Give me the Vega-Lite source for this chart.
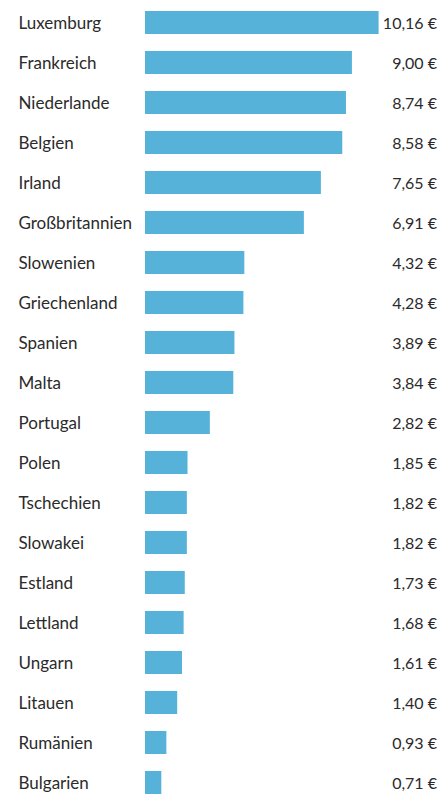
{
  "$schema": "https://vega.github.io/schema/vega-lite/v6.json",
  "width": 292,
  "height": 783,
  "autosize": "none",
  "padding": {"left": 145, "top": 11, "right": 6, "bottom": 0},
  "background": "white",
  "config": {"view": {"stroke": null}, "font": "Lato"},
  "data": {"values": [
    {"land": "Luxemburg", "wert": 10.16, "label": "10,16 €"},
    {"land": "Frankreich", "wert": 9.00, "label": "9,00 €"},
    {"land": "Niederlande", "wert": 8.74, "label": "8,74 €"},
    {"land": "Belgien", "wert": 8.58, "label": "8,58 €"},
    {"land": "Irland", "wert": 7.65, "label": "7,65 €"},
    {"land": "Großbritannien", "wert": 6.91, "label": "6,91 €"},
    {"land": "Slowenien", "wert": 4.32, "label": "4,32 €"},
    {"land": "Griechenland", "wert": 4.28, "label": "4,28 €"},
    {"land": "Spanien", "wert": 3.89, "label": "3,89 €"},
    {"land": "Malta", "wert": 3.84, "label": "3,84 €"},
    {"land": "Portugal", "wert": 2.82, "label": "2,82 €"},
    {"land": "Polen", "wert": 1.85, "label": "1,85 €"},
    {"land": "Tschechien", "wert": 1.82, "label": "1,82 €"},
    {"land": "Slowakei", "wert": 1.82, "label": "1,82 €"},
    {"land": "Estland", "wert": 1.73, "label": "1,73 €"},
    {"land": "Lettland", "wert": 1.68, "label": "1,68 €"},
    {"land": "Ungarn", "wert": 1.61, "label": "1,61 €"},
    {"land": "Litauen", "wert": 1.40, "label": "1,40 €"},
    {"land": "Rumänien", "wert": 0.93, "label": "0,93 €"},
    {"land": "Bulgarien", "wert": 0.71, "label": "0,71 €"}
  ]},
  "encoding": {
    "y": {
      "field": "land", "type": "nominal", "sort": null,
      "scale": {"paddingInner": 0.425, "paddingOuter": 0},
      "axis": {"title": null, "domain": false, "ticks": false, "labelAlign": "left", "labelPadding": 127, "labelFontSize": 17, "labelColor": "#2b2b2b", "labelFont": "Lato", "labelOffset": 1}
    }
  },
  "layer": [
    {
      "mark": {"type": "bar", "color": "#56B2D8"},
      "encoding": {
        "x": {"field": "wert", "type": "quantitative", "scale": {"domain": [0, 12.7], "nice": false}, "axis": null}
      }
    },
    {
      "mark": {"type": "text", "align": "right", "baseline": "middle", "fontSize": 16, "color": "#2b2b2b", "font": "Lato", "dy": 1},
      "encoding": {
        "x": {"datum": 12.7, "type": "quantitative"},
        "text": {"field": "label"}
      }
    }
  ]
}
